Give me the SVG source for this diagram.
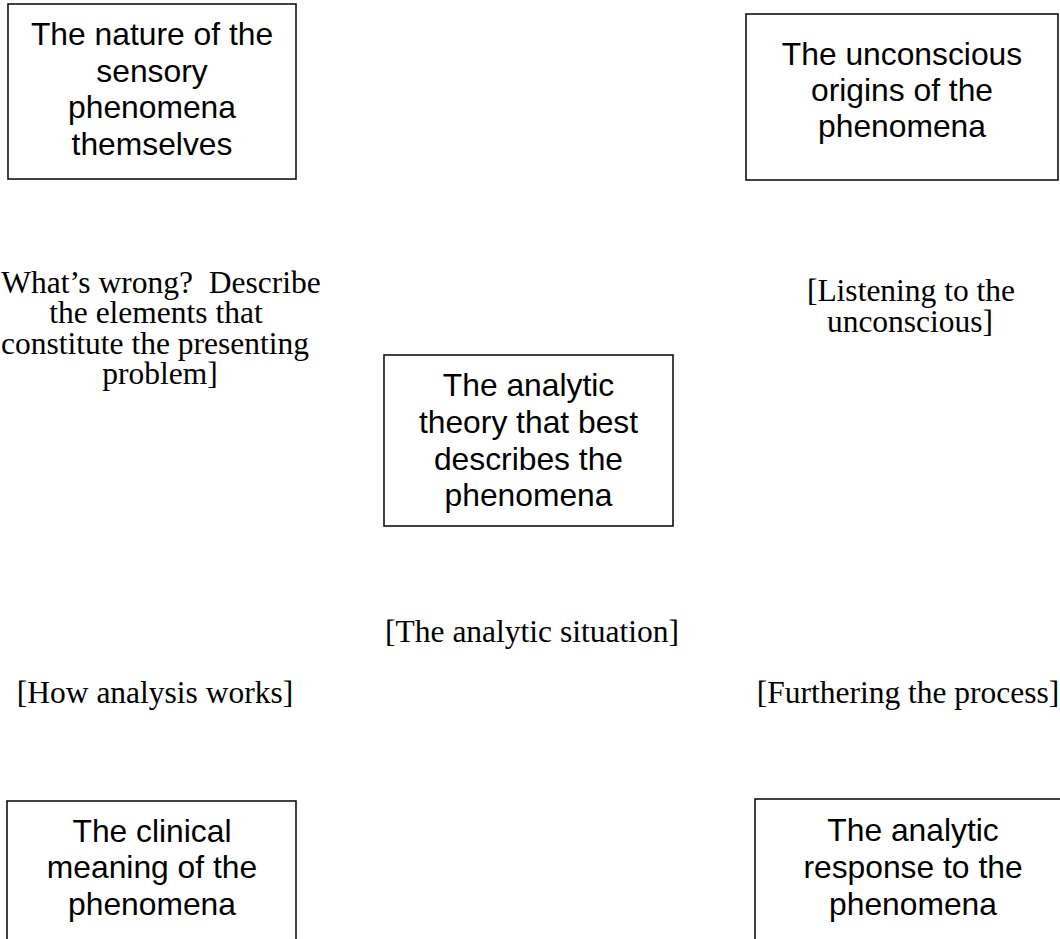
<svg xmlns="http://www.w3.org/2000/svg" width="1060" height="939" viewBox="0 0 1060 939">
<style>
.box{fill:#fff;stroke:#111;stroke-width:1.6}
.sans{font-family:"Liberation Sans",Arial,sans-serif;font-size:31.8px;fill:#000;text-anchor:middle}
.serif{font-family:"Liberation Serif","Times New Roman",serif;font-size:31.5px;fill:#000;text-anchor:middle}
</style>
<rect width="1060" height="939" fill="#fff"/>
<g id="connectors"></g>
<g id="node-sensory">
<rect class="box" x="8" y="4" width="288" height="175"/>
<text class="sans" x="152"><tspan x="152" y="45">The nature of the</tspan><tspan x="152" y="82">sensory</tspan><tspan x="152" y="118">phenomena</tspan><tspan x="152" y="155">themselves</tspan></text>
</g>
<g id="node-unconscious">
<rect class="box" x="746" y="14" width="312" height="166"/>
<text class="sans" x="902"><tspan x="902" y="65">The unconscious</tspan><tspan x="902" y="101">origins of the</tspan><tspan x="902" y="137">phenomena</tspan></text>
</g>
<g id="node-theory">
<rect class="box" x="384" y="355" width="289" height="171"/>
<text class="sans" x="528.5"><tspan x="528.5" y="396">The analytic</tspan><tspan x="528.5" y="433">theory that best</tspan><tspan x="528.5" y="470">describes the</tspan><tspan x="528.5" y="506">phenomena</tspan></text>
</g>
<g id="node-clinical">
<rect class="box" x="7" y="801" width="289" height="160"/>
<text class="sans" x="152"><tspan x="152" y="842">The clinical</tspan><tspan x="152" y="878">meaning of the</tspan><tspan x="152" y="915">phenomena</tspan></text>
</g>
<g id="node-response">
<rect class="box" x="755" y="799" width="320" height="160"/>
<text class="sans" x="913"><tspan x="913" y="841">The analytic</tspan><tspan x="913" y="878">response to the</tspan><tspan x="913" y="915">phenomena</tspan></text>
</g>
<g id="labels">
<text class="serif" xml:space="preserve" style="white-space:pre"><tspan x="161" y="293">What’s wrong?  Describe</tspan><tspan x="156" y="323">the elements that</tspan><tspan x="155" y="354">constitute the presenting</tspan><tspan x="160" y="384">problem]</tspan></text>
<text class="serif"><tspan x="911" y="301">[Listening to the</tspan><tspan x="910" y="332">unconscious]</tspan></text>
<text class="serif" x="532" y="642">[The analytic situation]</text>
<text class="serif" x="155" y="703">[How analysis works]</text>
<text class="serif" x="908" y="703">[Furthering the process]</text>
</g>
</svg>
